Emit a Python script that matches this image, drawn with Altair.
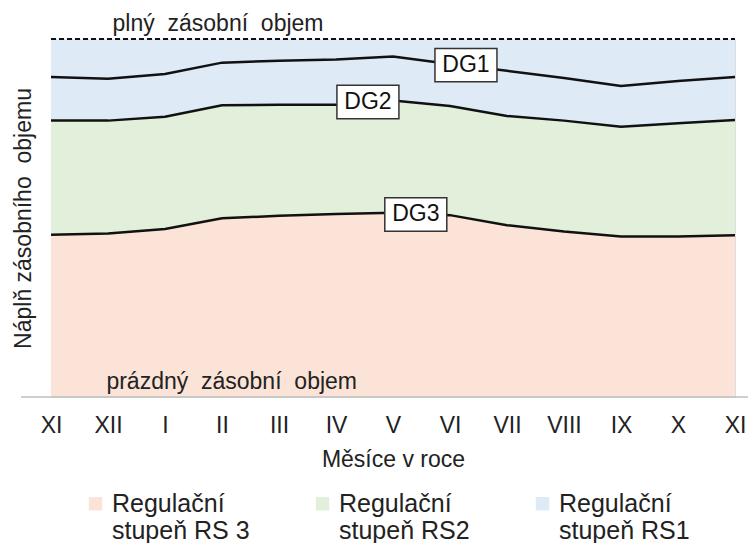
import altair as alt
import pandas as pd

months = ["XI", "XII", "I", "II", "III", "IV", "V", "VI", "VII", "VIII", "IX", "X", "XI"]
dg1 = [89.4, 88.9, 90.2, 93.4, 93.9, 94.3, 95.1, 93.0, 91.1, 89.1, 86.9, 88.3, 89.4]
dg2 = [77.2, 77.2, 78.3, 81.5, 81.6, 81.6, 82.8, 81.3, 78.5, 77.2, 75.5, 76.5, 77.4]
dg3 = [45.3, 45.7, 46.9, 49.9, 50.6, 51.1, 51.5, 50.8, 48.0, 46.2, 44.8, 44.8, 45.2]
full_level = 100
empty_level = 0

stages = ["Regulační|stupeň RS 3", "Regulační|stupeň RS2", "Regulační|stupeň RS1"]
stage_colors = ["#FBE4D7", "#E2EFDA", "#DEEAF6"]

dg_names = ["DG1", "DG2", "DG3"]
dg_label_idx = [7.28, 5.56, 6.40]
dg_label_val = [92.7, 82.4, 51.0]

note_texts = ["plný\u00a0 zásobní\u00a0 objem", "prázdný\u00a0 zásobní\u00a0 objem"]
note_idx = [2.93, 3.17]
note_val = [full_level, empty_level]

W, H = 684, 358
FS = 23

idx = list(range(len(months)))
area_rows = []
for i in idx:
    area_rows.append({"i": i, "stage": stages[0], "lo": empty_level, "hi": dg3[i]})
    area_rows.append({"i": i, "stage": stages[1], "lo": dg3[i], "hi": dg2[i]})
    area_rows.append({"i": i, "stage": stages[2], "lo": dg2[i], "hi": full_level})
area_df = pd.DataFrame(area_rows)

line_rows = []
for name, vals in zip(dg_names, [dg1, dg2, dg3]):
    for i in idx:
        line_rows.append({"i": i, "line": name, "v": vals[i]})
line_df = pd.DataFrame(line_rows)

lab_df = pd.DataFrame({"i": dg_label_idx, "v": dg_label_val, "name": dg_names})
note_df = pd.DataFrame({"i": note_idx, "v": note_val, "t": note_texts})
full_df = pd.DataFrame({"i": [0], "i2": [12], "v": [full_level]})

FONT = "Liberation Sans"
label_expr = "[" + ",".join("'" + m + "'" for m in months) + "][datum.value]"

xscale = alt.Scale(domain=[0, 12], nice=False, zero=False)
yscale = alt.Scale(domain=[0, 100], nice=False)

x_enc = alt.X("i:Q", scale=xscale,
              axis=alt.Axis(values=idx, labelExpr=label_expr, title="Měsíce v roce",
                            grid=False, ticks=False, domain=False, labelFlush=False,
                            labelOverlap=False,
                            labelFontSize=FS, labelPadding=17, labelColor="#222",
                            titleFontSize=FS, titleFontWeight="normal", titlePadding=11,
                            titleColor="#222", labelFont=FONT, titleFont=FONT))

areas = alt.Chart(area_df).mark_area(interpolate="linear").encode(
    x=x_enc,
    y=alt.Y("hi:Q", scale=yscale, stack=None,
            axis=alt.Axis(title="Náplň zásobního\u00a0 objemu", labels=False, ticks=False,
                          domain=False, grid=False, titleFontSize=FS,
                          titleFontWeight="normal", titlePadding=15.5, titleColor="#222",
                          titleFont=FONT)),
    y2="lo:Q",
    color=alt.Color("stage:N", scale=alt.Scale(domain=stages, range=stage_colors),
                    legend=alt.Legend(title=None, orient="none", legendX=32, legendY=452,
                                      direction="horizontal",
                                      columns=3, symbolType="square", symbolSize=180,
                                      symbolStrokeWidth=0, labelFontSize=25,
                                      labelFont=FONT, labelColor="#222",
                                      labelExpr="split(datum.label, '|')",
                                      labelBaseline="middle", labelOffset=4,
                                      columnPadding=60, labelLimit=250)),
    detail="stage:N",
)

lines = alt.Chart(line_df).mark_line(interpolate="linear", color="#111", strokeWidth=2.5).encode(
    x="i:Q", y="v:Q", detail="line:N"
)

full_rule = alt.Chart(full_df).mark_rule(color="#111", strokeWidth=2, strokeDash=[5, 3]).encode(
    x="i:Q", x2="i2:Q", y="v:Q"
)

axis_line = alt.Chart(full_df).mark_rule(color="#BFBFBF", strokeWidth=1.5).encode(
    x=alt.value(-30), x2=alt.value(W + 13), y=alt.value(H)
)

boxes = alt.Chart(lab_df).mark_point(
    shape="M-1,-0.54 H1 V0.54 H-1 Z", size=62 * 62, filled=True,
    fill="white", stroke="#333", strokeWidth=1.5, opacity=1
).encode(x="i:Q", y="v:Q")

box_text = alt.Chart(lab_df).mark_text(fontSize=FS, font=FONT, color="#111").encode(
    x="i:Q", y="v:Q", text="name:N"
)

notes = alt.Chart(note_df).mark_text(fontSize=FS, font=FONT, color="#222", dy=-15).encode(
    x="i:Q", y="v:Q", text="t:N"
)

chart = alt.layer(areas, axis_line, lines, full_rule, boxes, box_text, notes).properties(
    width=W, height=H,
    autosize=alt.AutoSizeParams(type="none"),
    padding={"left": 43, "top": 31, "right": 13, "bottom": 146}
).configure_view(stroke=None).configure(font=FONT)

chart.save("out.html", embed_options={"renderer": "svg", "actions": False})
